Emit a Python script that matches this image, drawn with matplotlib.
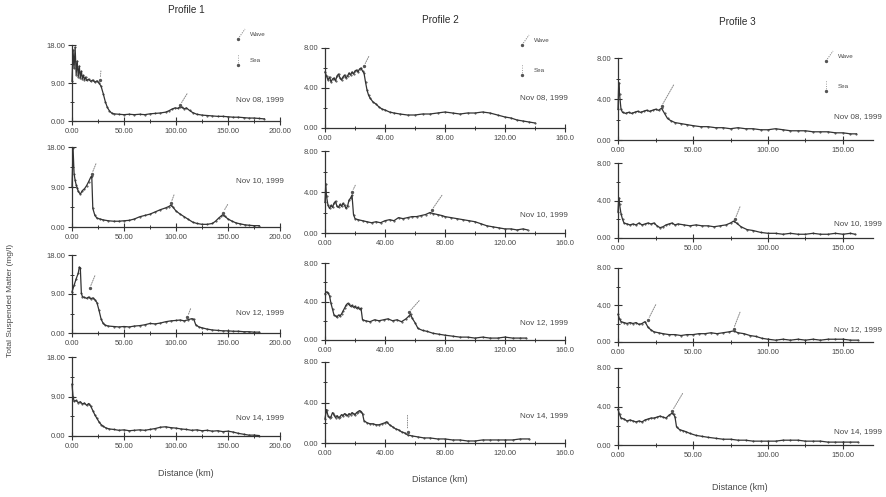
import matplotlib
matplotlib.use("Agg")
import matplotlib.pyplot as plt
from matplotlib.ticker import MultipleLocator, FixedLocator, FixedFormatter

plt.rcParams['font.family'] = ['Liberation Sans', 'DejaVu Sans']

# ---------------- data (distance km, TSM mg/l) ----------------
p1_nov08 = [(0,9.5),(1,16.8),(2,12.5),(3,17.5),(4,11.0),(5,14.2),(6,10.5),(7,13.0),(8,10.2),(9,11.8),(10,10.0),(11,10.8),(12,9.8),(13,10.4),(14,9.6),(16,9.9),(18,9.4),(20,9.7),(22,9.2),(24,9.5),(26,9.0),(28,8.2),(30,6.5),(32,4.6),(34,3.2),(36,2.4),(38,1.9),(40,1.7),(45,1.6),(50,1.5),(55,1.6),(60,1.5),(65,1.6),(70,1.5),(75,1.7),(80,1.8),(85,1.9),(90,2.1),(93,2.4),(96,2.8),(99,3.1),(102,3.0),(104,3.4),(106,3.2),(108,2.9),(110,3.1),(113,2.5),(116,2.0),(120,1.6),(125,1.4),(130,1.3),(135,1.2),(140,1.1),(145,1.1),(150,1.0),(155,0.9),(160,0.9),(165,0.8),(170,0.7),(175,0.7),(180,0.6),(185,0.5)]
p1_nov10 = [(0,9.0),(1,17.8),(2,12.0),(3,10.5),(4,9.5),(5,8.8),(6,8.0),(8,7.4),(10,8.2),(12,8.6),(14,9.3),(16,10.2),(18,11.2),(19,11.5),(20,4.2),(22,2.6),(24,2.0),(27,1.8),(30,1.6),(35,1.4),(40,1.3),(45,1.3),(50,1.4),(55,1.5),(60,1.8),(65,2.3),(70,2.6),(75,2.9),(80,3.4),(85,3.9),(90,4.3),(93,4.6),(95,4.9),(97,4.5),(100,3.6),(104,2.9),(108,2.3),(112,1.7),(116,1.1),(120,0.8),(125,0.6),(130,0.6),(135,0.8),(138,1.3),(141,2.0),(143,2.4),(145,2.8),(147,2.4),(150,1.8),(154,1.3),(158,0.9),(162,0.7),(166,0.5),(170,0.4),(175,0.3),(180,0.3)]
p1_nov12 = [(0,9.5),(2,11.0),(4,12.5),(6,13.8),(7,15.2),(8,15.0),(9,9.2),(10,8.4),(12,8.2),(14,8.0),(16,8.3),(18,7.9),(20,8.1),(22,7.7),(24,7.0),(26,5.2),(28,3.2),(30,2.2),(32,1.8),(35,1.6),(40,1.5),(45,1.4),(50,1.5),(55,1.4),(60,1.6),(65,1.7),(70,1.9),(75,2.2),(80,2.1),(85,2.3),(90,2.6),(95,2.8),(100,2.9),(104,3.0),(108,2.8),(112,3.1),(115,3.3),(117,3.2),(119,1.9),(122,1.4),(125,1.2),(130,0.9),(135,0.7),(140,0.6),(145,0.5),(150,0.5),(155,0.4),(160,0.4),(165,0.3),(170,0.3),(175,0.2),(180,0.2)]
p1_nov14 = [(0,11.8),(1,9.0),(2,7.9),(4,8.1),(6,7.6),(8,7.8),(10,7.3),(12,7.5),(14,7.0),(16,7.4),(18,6.8),(20,5.8),(22,4.8),(24,4.0),(26,3.2),(28,2.6),(30,2.2),(33,1.8),(36,1.6),(40,1.5),(45,1.3),(50,1.4),(55,1.2),(60,1.3),(65,1.4),(70,1.3),(75,1.5),(80,1.7),(85,2.0),(90,2.1),(95,1.9),(100,1.8),(105,1.6),(110,1.5),(115,1.3),(120,1.4),(125,1.2),(130,1.3),(135,1.1),(140,1.2),(145,1.0),(150,1.1),(155,0.9),(160,0.6),(165,0.4),(170,0.2),(175,0.2),(180,0.1)]

p2_nov08 = [(0,5.6),(1,5.2),(2,4.8),(3,5.1),(4,4.6),(5,4.9),(6,5.0),(7,4.7),(8,5.2),(9,5.4),(10,5.0),(11,4.8),(12,5.1),(13,5.3),(14,5.0),(15,5.2),(16,5.5),(17,5.3),(18,5.6),(19,5.4),(20,5.7),(21,5.8),(22,5.6),(23,5.9),(24,6.0),(25,5.7),(26,5.5),(27,4.6),(28,3.8),(29,3.3),(30,3.0),(32,2.6),(34,2.4),(36,2.1),(38,1.9),(40,1.8),(43,1.6),(46,1.5),(50,1.4),(55,1.3),(60,1.3),(65,1.4),(70,1.4),(75,1.5),(80,1.6),(85,1.5),(90,1.4),(95,1.5),(100,1.5),(105,1.6),(110,1.5),(115,1.3),(120,1.1),(124,1.0),(128,0.8),(132,0.7),(136,0.6),(140,0.5)]
p2_nov10 = [(0,3.0),(0.5,4.8),(1,3.6),(2,2.7),(3,2.4),(4,2.7),(5,2.5),(6,2.9),(7,3.1),(8,2.6),(9,2.5),(10,2.8),(11,2.6),(12,2.9),(13,2.7),(14,2.4),(15,2.6),(16,3.2),(17,3.4),(18,3.7),(19,1.8),(20,1.4),(22,1.3),(25,1.2),(28,1.1),(31,1.0),(34,1.1),(37,1.0),(40,1.2),(43,1.3),(46,1.2),(49,1.5),(52,1.4),(55,1.5),(58,1.6),(61,1.6),(64,1.7),(67,1.8),(70,2.0),(72,1.9),(75,1.8),(78,1.7),(80,1.6),(84,1.5),(88,1.4),(92,1.3),(96,1.2),(100,1.1),(104,0.9),(108,0.7),(112,0.6),(116,0.5),(120,0.4),(124,0.4),(128,0.3),(132,0.4),(135,0.3)]
p2_nov12 = [(0,4.8),(1,5.0),(2,4.9),(3,4.6),(4,3.8),(5,3.2),(6,2.6),(7,2.5),(8,2.4),(9,2.6),(10,2.5),(11,2.7),(12,3.0),(13,3.3),(14,3.6),(15,3.8),(16,3.7),(17,3.5),(18,3.6),(19,3.4),(20,3.5),(21,3.3),(22,3.4),(23,3.2),(24,3.3),(25,2.1),(27,2.0),(30,1.9),(33,2.1),(36,2.0),(39,2.1),(42,2.2),(45,2.0),(48,2.1),(51,1.9),(54,2.2),(56,2.5),(57,2.7),(58,2.3),(60,1.8),(62,1.2),(65,1.0),(68,0.9),(72,0.7),(76,0.6),(80,0.5),(85,0.4),(90,0.3),(95,0.3),(100,0.2),(105,0.3),(110,0.2),(115,0.2),(120,0.3),(125,0.2),(130,0.2),(134,0.2)]
p2_nov14 = [(0,2.4),(1,3.3),(2,2.7),(3,2.5),(4,2.6),(5,3.0),(6,2.8),(7,2.5),(8,2.7),(9,2.5),(10,2.6),(11,2.8),(12,2.7),(13,2.9),(14,2.8),(15,2.7),(16,2.9),(17,2.8),(18,3.0),(19,2.9),(20,2.8),(21,3.0),(22,3.1),(23,3.2),(24,3.1),(25,2.9),(26,2.2),(28,2.0),(30,1.9),(32,1.9),(34,1.8),(36,1.8),(38,1.9),(40,2.0),(41,2.1),(43,1.8),(45,1.6),(47,1.4),(49,1.3),(51,1.1),(53,1.0),(55,0.8),(58,0.7),(62,0.6),(66,0.5),(70,0.5),(75,0.4),(80,0.4),(85,0.3),(90,0.3),(95,0.2),(100,0.2),(105,0.3),(110,0.3),(115,0.3),(120,0.3),(125,0.3),(130,0.4),(136,0.4)]

p3_nov08 = [(0,3.0),(0.5,5.6),(1,4.5),(2,3.0),(3,2.7),(5,2.6),(7,2.7),(9,2.6),(11,2.7),(13,2.8),(15,2.7),(17,2.8),(19,2.9),(21,2.8),(23,2.9),(25,3.0),(27,2.9),(29,3.1),(31,2.6),(33,2.1),(35,1.9),(38,1.7),(42,1.6),(46,1.5),(50,1.4),(55,1.3),(60,1.3),(65,1.2),(70,1.2),(75,1.1),(80,1.2),(85,1.1),(90,1.1),(95,1.0),(100,1.0),(105,1.1),(110,1.0),(115,0.9),(120,0.9),(125,0.9),(130,0.8),(135,0.8),(140,0.8),(145,0.7),(150,0.7),(155,0.6),(159,0.6)]
p3_nov10 = [(0,2.8),(0.5,4.3),(1,3.6),(2,2.6),(3,2.0),(4,1.6),(6,1.5),(8,1.4),(10,1.5),(12,1.4),(14,1.6),(16,1.4),(18,1.5),(20,1.6),(22,1.5),(24,1.6),(26,1.3),(28,1.1),(30,1.2),(32,1.4),(34,1.5),(36,1.6),(38,1.4),(40,1.5),(44,1.4),(48,1.3),(52,1.4),(56,1.3),(60,1.3),(64,1.2),(68,1.3),(72,1.4),(75,1.6),(77,1.8),(79,1.6),(82,1.2),(86,0.9),(90,0.8),(95,0.6),(100,0.5),(105,0.5),(110,0.4),(115,0.5),(120,0.4),(125,0.4),(130,0.5),(135,0.4),(140,0.4),(145,0.5),(150,0.4),(155,0.5),(158,0.4)]
p3_nov12 = [(0,3.0),(1,2.5),(2,2.2),(4,2.1),(6,2.0),(8,2.1),(10,2.0),(12,2.1),(14,1.9),(16,2.0),(18,2.2),(20,1.6),(22,1.3),(24,1.1),(27,1.0),(30,0.9),(34,0.8),(38,0.8),(42,0.7),(46,0.8),(50,0.8),(54,0.9),(58,0.9),(62,1.0),(66,0.9),(70,1.0),(74,1.1),(77,1.2),(80,1.0),(84,0.9),(88,0.7),(92,0.6),(96,0.4),(100,0.3),(105,0.2),(110,0.3),(115,0.2),(120,0.3),(125,0.2),(130,0.3),(135,0.2),(140,0.3),(145,0.3),(150,0.3),(155,0.2),(160,0.2)]
p3_nov14 = [(0,3.7),(1,3.2),(2,2.8),(4,2.7),(6,2.5),(8,2.6),(10,2.5),(12,2.4),(14,2.5),(16,2.4),(18,2.6),(20,2.7),(22,2.8),(24,2.8),(26,2.9),(28,3.0),(30,2.9),(32,2.8),(34,3.1),(36,3.3),(37,3.2),(38,2.9),(39,1.9),(41,1.6),(43,1.5),(45,1.4),(48,1.2),(52,1.0),(56,0.9),(60,0.8),(65,0.7),(70,0.6),(75,0.6),(80,0.5),(85,0.5),(90,0.4),(95,0.4),(100,0.4),(105,0.4),(110,0.5),(115,0.5),(120,0.5),(125,0.4),(130,0.4),(135,0.4),(140,0.3),(145,0.3),(150,0.3),(155,0.3),(160,0.3)]

dates = ["Nov 08, 1999", "Nov 10, 1999", "Nov 12, 1999", "Nov 14, 1999"]
profiles = ["Profile 1", "Profile 2", "Profile 3"]
legend_labels = ["Wave", "Sea"]

col1_xticks = [0, 50, 100, 150, 200]
col1_xlabels = ["0.00", "50.00", "100.00", "150.00", "200.00"]
col1_yticks = [0, 9, 18]
col1_ylabels = ["0.00", "9.00", "18.00"]
col2_xticks = [0, 40, 80, 120, 160]
col2_xlabels = ["0.00", "40.00", "80.00", "120.00", "160.0"]
col3_xticks = [0, 50, 100, 150]
col3_xlabels = ["0.00", "50.00", "100.00", "150.00"]
col23_yticks = [0, 4, 8]
col23_ylabels = ["0.00", "4.00", "8.00"]

# feature arrows: (tip x, tip y, tail x, tail y, kind)
arrows = {
    (0, 0): [(27, 9.6, 28, 12.5, 'v'), (104, 3.8, 112, 7.0, 'd')],
    (0, 1): [(19, 11.9, 24, 14.8, 'd'), (95, 5.3, 99, 7.8, 'd'), (145, 3.2, 151, 5.6, 'd')],
    (0, 2): [(17, 10.3, 23, 13.8, 'd'), (111, 3.7, 115, 6.2, 'd')],
    (1, 0): [(26, 6.2, 30, 7.4, 'd')],
    (1, 1): [(18, 4.0, 21, 4.9, 'd'), (71, 2.2, 79, 3.9, 'd')],
    (1, 2): [(56, 2.9, 64, 4.3, 'd')],
    (1, 3): [(55, 1.1, 55, 3.0, 'v')],
    (2, 0): [(29, 3.3, 38, 5.6, 'd')],
    (2, 1): [(78, 2.0, 82, 3.6, 'd')],
    (2, 2): [(20, 2.4, 26, 4.3, 'd'), (77, 1.4, 82, 3.5, 'd')],
    (2, 3): [(36, 3.5, 44, 5.6, 'd')],
}

columns = [
    dict(data=[p1_nov08, p1_nov10, p1_nov12, p1_nov14], xmax=200, ymax=18,
         xt=col1_xticks, xl=col1_xlabels, yt=col1_yticks, yl=col1_ylabels,
         xminor=25, yminor=4.5, left=72, right=280,
         rows=[(45, 121), (147, 227), (255, 333), (357, 436)]),
    dict(data=[p2_nov08, p2_nov10, p2_nov12, p2_nov14], xmax=160, ymax=8,
         xt=col2_xticks, xl=col2_xlabels, yt=col23_yticks, yl=col23_ylabels,
         xminor=20, yminor=2, left=325, right=565,
         rows=[(48, 128), (151, 233), (263, 340), (362, 443)]),
    dict(data=[p3_nov08, p3_nov10, p3_nov12, p3_nov14], xmax=170, ymax=8,
         xt=col3_xticks, xl=col3_xlabels, yt=col23_yticks, yl=col23_ylabels,
         xminor=25, yminor=2, left=618, right=873,
         rows=[(58, 140), (163, 238), (268, 342), (368, 445)]),
]
date_pos = [
    [(284, 100), (284, 181), (284, 313), (284, 418)],
    [(568, 98), (568, 215), (568, 323), (568, 416)],
    [(882, 117), (882, 224), (882, 330), (882, 432)],
]
title_pos = [(186, 10), (440, 20), (737, 22)]
xlabel_pos = [(186, 474), (440, 480), (740, 488)]
legend_pos = [(238, 34, 238, 60), (522, 40, 522, 70), (826, 56, 826, 86)]

W, H = 886, 497
INK = '#333333'
TXT = '#484848'
fig = plt.figure(figsize=(W / 100, H / 100), dpi=100)
fig.patch.set_facecolor('white')


def fpx(x, y):
    return (x / W, 1 - y / H)


for ci, col in enumerate(columns):
    for ri, pts in enumerate(col['data']):
        top, base = col['rows'][ri]
        l, r = col['left'], col['right']
        ax = fig.add_axes([l / W, 1 - base / H, (r - l) / W, (base - top) / H])
        ax.set_facecolor('none')
        xs = [p[0] for p in pts]
        ys = [p[1] for p in pts]
        ax.plot(xs, ys, color=INK, lw=0.9, marker='.', ms=0.9, clip_on=False)
        ax.set_xlim(0, col['xmax'])
        ax.set_ylim(0, col['ymax'])
        for s in ('top', 'right'):
            ax.spines[s].set_visible(False)
        for s in ('left', 'bottom'):
            ax.spines[s].set_color(INK)
            ax.spines[s].set_linewidth(0.9)
        ax.xaxis.set_major_locator(FixedLocator(col['xt']))
        ax.xaxis.set_major_formatter(FixedFormatter(col['xl']))
        ax.yaxis.set_major_locator(FixedLocator(col['yt']))
        ax.yaxis.set_major_formatter(FixedFormatter(col['yl']))
        ax.xaxis.set_minor_locator(MultipleLocator(col['xminor']))
        ax.yaxis.set_minor_locator(MultipleLocator(col['yminor']))
        ax.tick_params(which='major', direction='inout', length=6, width=0.8,
                       colors=INK, labelsize=5.5, labelcolor=TXT, pad=2)
        ax.tick_params(which='minor', direction='inout', length=3.5, width=0.7, colors=INK)
        for tip_x, tip_y, tail_x, tail_y, kind in arrows.get((ci, ri), []):
            ls = (0, (1.2, 1.2)) if kind == 'd' else (0, (0.8, 1.6))
            ax.annotate('', xy=(tip_x, tip_y), xytext=(tail_x, tail_y),
                        arrowprops=dict(arrowstyle='-', linestyle=ls, color='#888888', lw=0.7),
                        annotation_clip=False)
            ax.plot([tip_x], [tip_y], 'o', ms=1.4, color='#555555', clip_on=False)
        dx, dy = date_pos[ci][ri]
        fig.text(*fpx(dx, dy), dates[ri], ha='right', va='center', fontsize=5.8, color=TXT)

    tx, ty = title_pos[ci]
    fig.text(*fpx(tx, ty), profiles[ci], ha='center', va='center', fontsize=7.2, color='#2a2a2a')
    lx, ly = xlabel_pos[ci]
    fig.text(*fpx(lx, ly), "Distance (km)", ha='center', va='center', fontsize=6.5, color=TXT)

    # legend symbols
    ax_x, ay1, bx, by1 = legend_pos[ci]
    fig.add_artist(plt.Line2D([ax_x / W, (ax_x + 7) / W], [1 - (ay1 + 5) / H, 1 - (ay1 - 5) / H],
                              color='#888888', lw=0.7, linestyle=(0, (1.2, 1.2))))
    fig.add_artist(plt.Line2D([ax_x / W], [1 - (ay1 + 5) / H], marker='o', ms=1.4, color='#555555'))
    fig.text(*fpx(ax_x + 12, ay1), legend_labels[0], ha='left', va='center', fontsize=4.5, color=TXT)
    fig.add_artist(plt.Line2D([bx / W, bx / W], [1 - (by1 + 5) / H, 1 - (by1 - 6) / H],
                              color='#888888', lw=0.7, linestyle=(0, (0.8, 1.6))))
    fig.add_artist(plt.Line2D([bx / W], [1 - (by1 + 5) / H], marker='o', ms=1.4, color='#555555'))
    fig.text(*fpx(bx + 12, by1), legend_labels[1], ha='left', va='center', fontsize=4.5, color=TXT)

fig.text(*fpx(11, 300), "Total Suspended Matter (mg/l)", rotation=90,
         ha='center', va='center', fontsize=6, color=TXT)

fig.savefig("out.png", dpi=100, facecolor='white')
